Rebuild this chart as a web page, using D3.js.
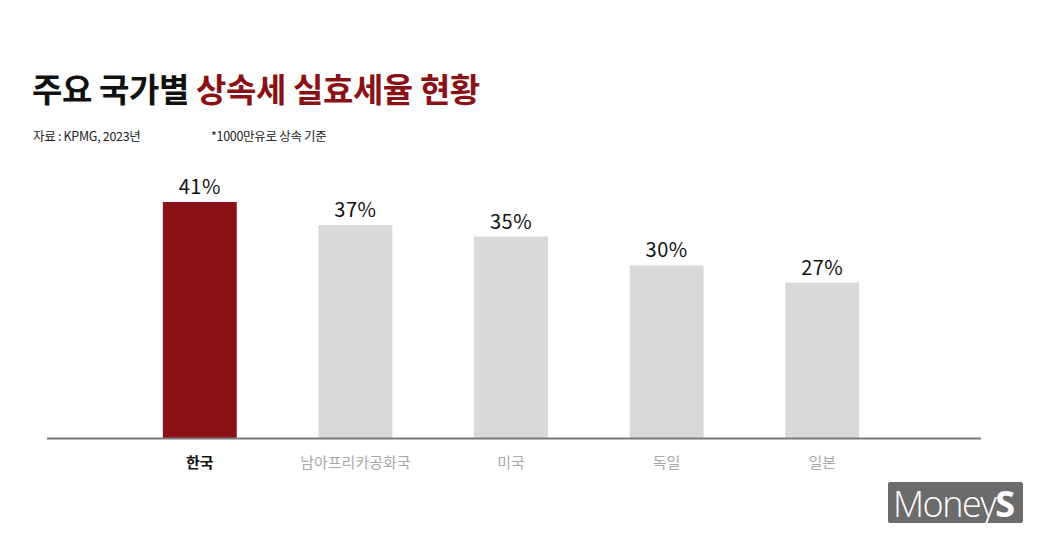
<!DOCTYPE html>
<html><head><meta charset="utf-8">
<script src="https://cdn.jsdelivr.net/npm/d3@7"></script>
<style>body{margin:0;background:#fff;} svg{display:block;}</style>
</head><body>
<svg id="c" width="1039" height="540"></svg>
<script>
const categories = ["한국","남아프리카공화국","미국","독일","일본"];
const values = [41,37,35,30,27];
const valueLabels = ["41%","37%","35%","30%","27%"];
const titleBlack = "주요 국가별 ";
const titleRed = "상속세 실효세율 현황";
const sourceText = "자료 : KPMG, 2023년";
const noteText = "*1000만유로 상속 기준";

const svg = d3.select("#c");
const font = "'Noto Sans CJK KR','Noto Sans',sans-serif";
const red = "#8a1115";

const x = d3.scaleBand().domain(categories).range([122, 900]).paddingInner(0.525).paddingOuter(0.2625);
const y = d3.scaleLinear().domain([0, 41]).range([438, 202]);

// title
const t = svg.append("text").attr("x", 32).attr("y", 102).attr("font-family", font)
  .attr("font-size", 33).attr("font-weight", 700).attr("letter-spacing", -0.4);
t.append("tspan").attr("fill", "#111").text(titleBlack);
t.append("tspan").attr("fill", red).text(titleRed);

svg.append("text").attr("x", 33).attr("y", 141).attr("font-family", font).attr("font-size", 12.5)
  .attr("fill", "#222").attr("letter-spacing", -0.3).text(sourceText);
svg.append("text").attr("x", 211).attr("y", 141).attr("font-family", font).attr("font-size", 12.5)
  .attr("fill", "#222").attr("letter-spacing", -0.3).text(noteText);

// bars
svg.selectAll("rect.bar").data(categories).enter().append("rect").attr("class", "bar")
  .attr("x", d => x(d)).attr("width", x.bandwidth())
  .attr("y", (d, i) => y(values[i])).attr("height", (d, i) => y(0) - y(values[i]))
  .attr("fill", (d, i) => i === 0 ? red : "#d9d9d9");

// axis line
svg.append("line").attr("x1", 47).attr("x2", 981).attr("y1", 438.5).attr("y2", 438.5)
  .attr("stroke", "#7a7a7a").attr("stroke-width", 2);

// value labels
svg.selectAll("text.val").data(categories).enter().append("text").attr("class", "val")
  .attr("x", d => x(d) + x.bandwidth() / 2).attr("y", (d, i) => y(values[i]) - 8)
  .attr("text-anchor", "middle").attr("font-family", font).attr("font-size", 20)
  .attr("font-weight", 400).attr("letter-spacing", 0.5).attr("fill", "#111").text((d, i) => valueLabels[i]);

// category labels
svg.selectAll("text.cat").data(categories).enter().append("text").attr("class", "cat")
  .attr("x", d => x(d) + x.bandwidth() / 2).attr("y", 468)
  .attr("text-anchor", "middle").attr("font-family", font).attr("font-size", 15)
  .attr("font-weight", (d, i) => i === 0 ? 700 : 400)
  .attr("fill", (d, i) => i === 0 ? "#111" : "#a8a8a8").text(d => d);

// logo
svg.append("rect").attr("x", 888).attr("y", 482).attr("width", 135).attr("height", 41).attr("rx", 2).attr("fill", "#6b6b6b");
const lg = svg.append("text").attr("x", 893).attr("y", 517).attr("font-family", "'Open Sans','Lato',sans-serif")
  .attr("font-size", 36).attr("fill", "#fff").attr("letter-spacing", -1.5);
lg.append("tspan").attr("font-weight", 300).text("Money");
lg.append("tspan").attr("font-weight", 700).text("S");
</script>
</body></html>
